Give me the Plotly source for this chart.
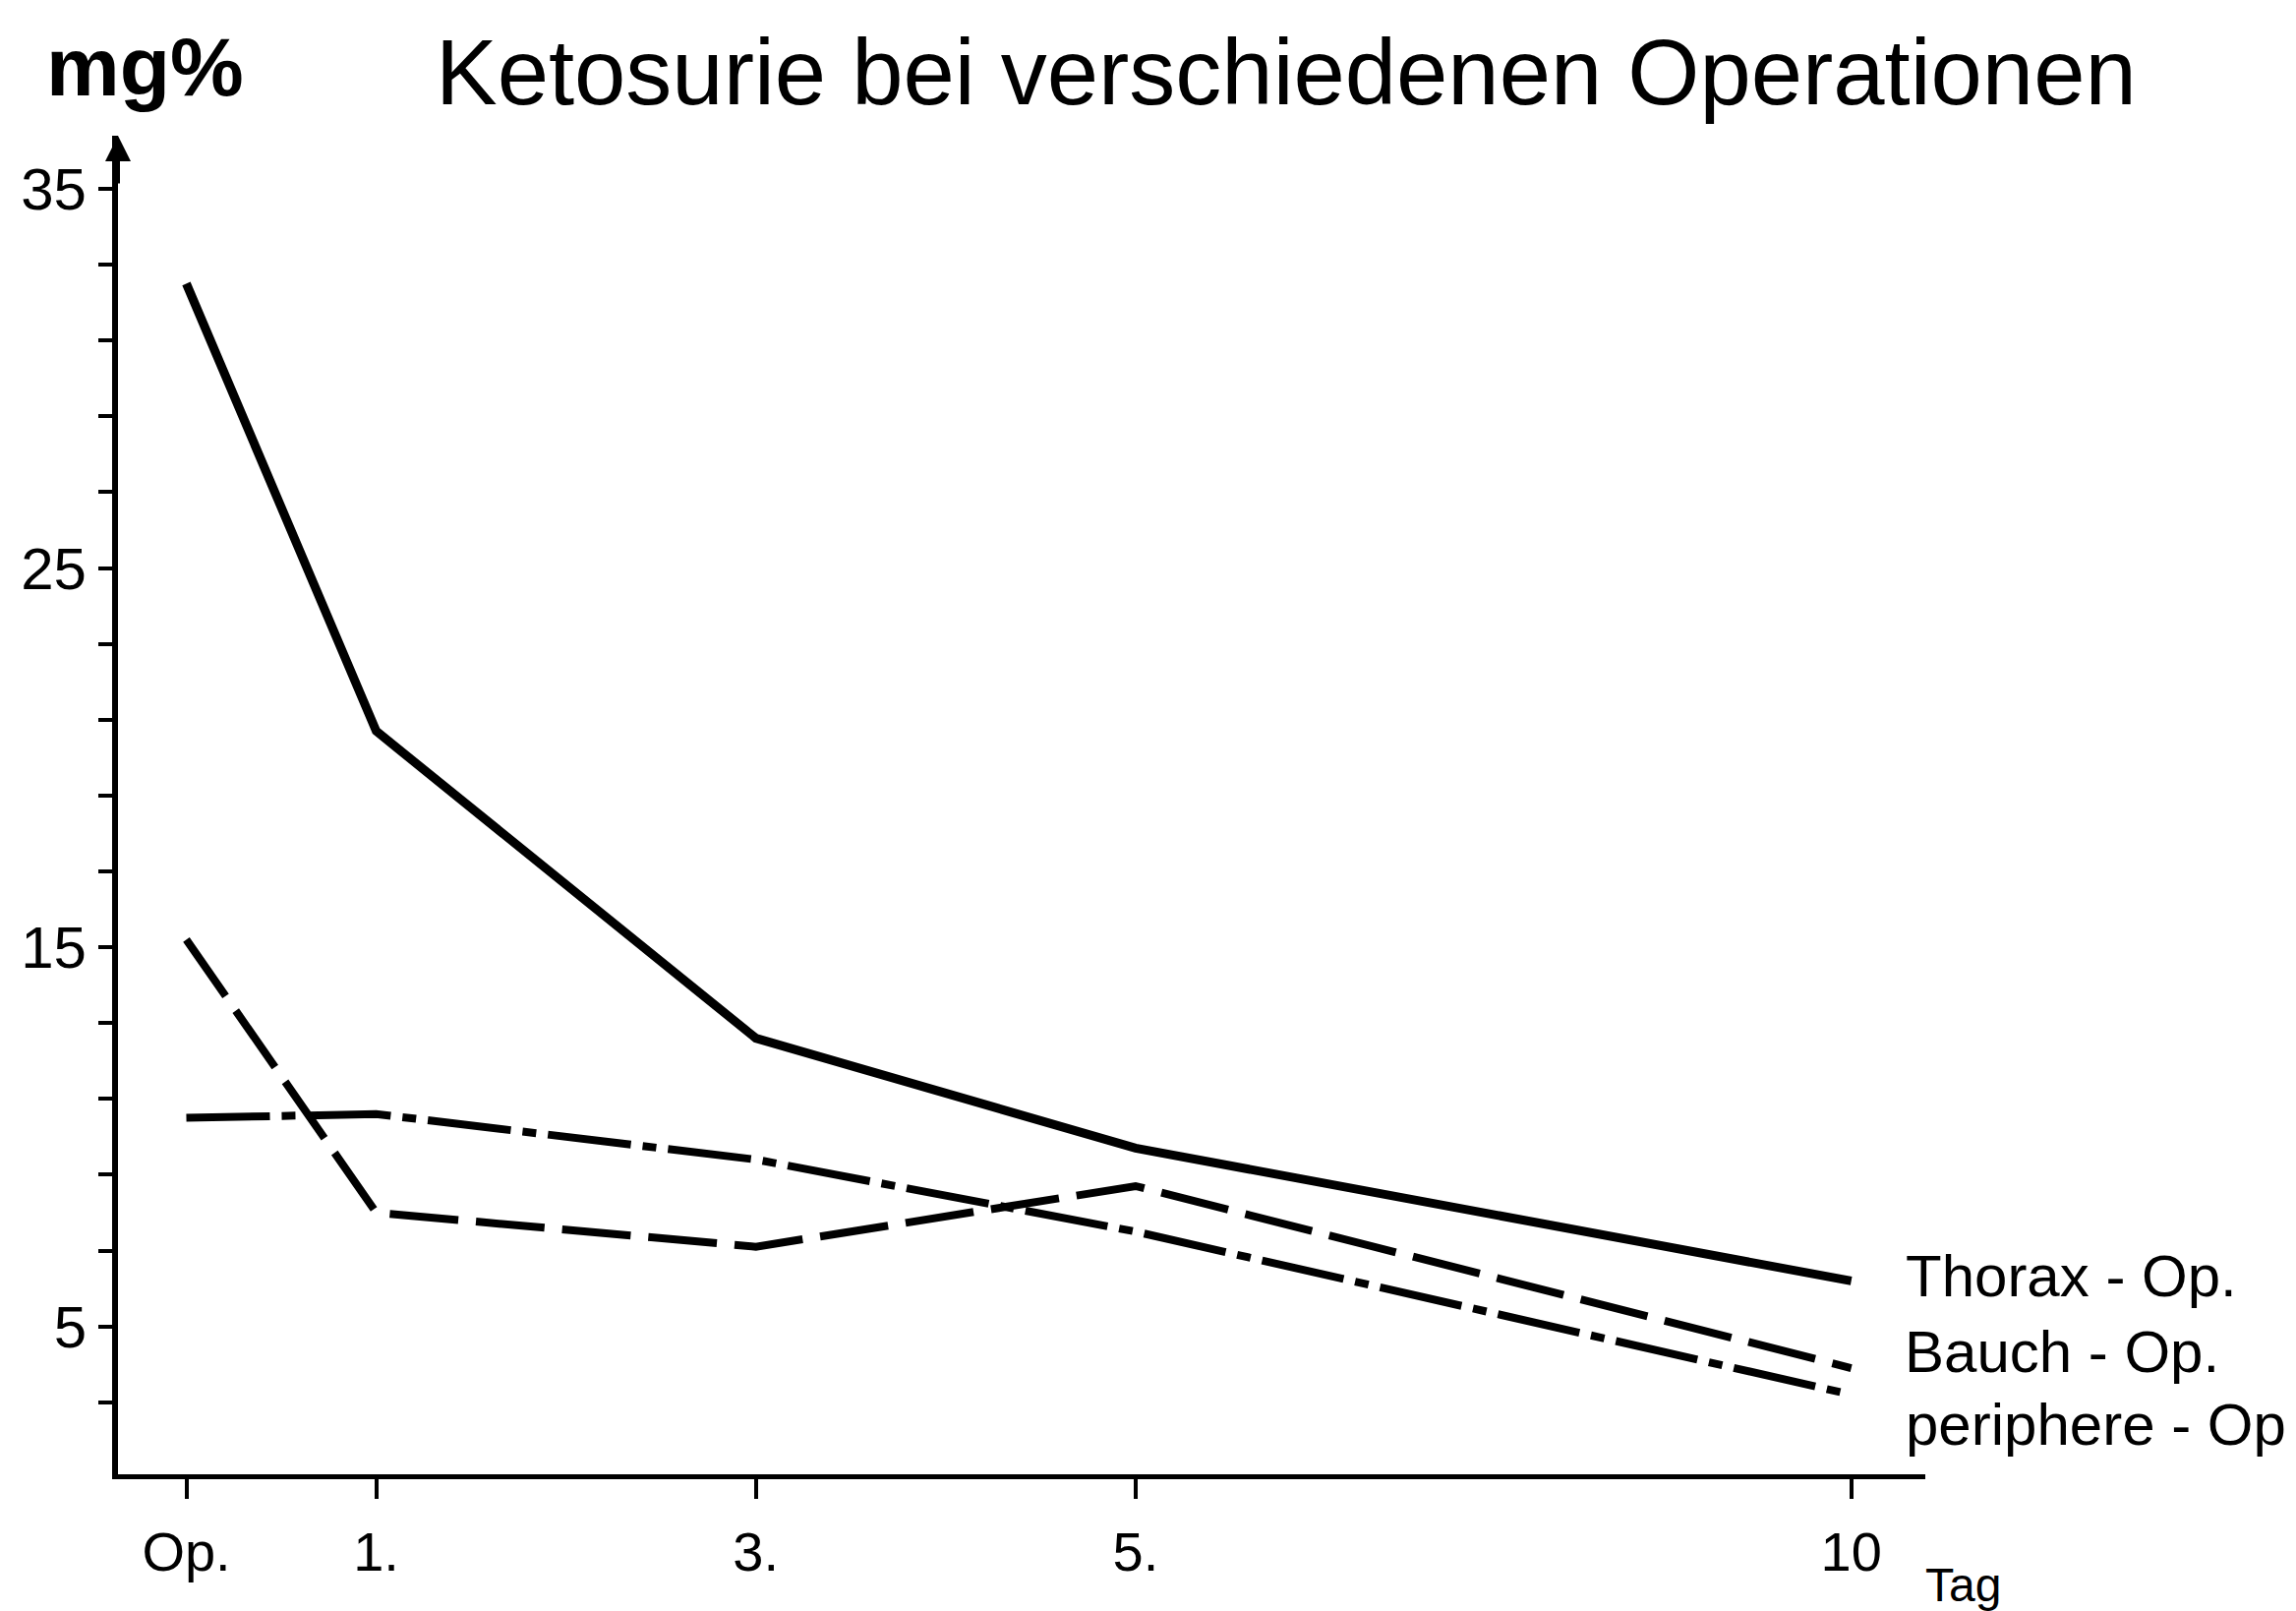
import plotly.graph_objects as go

# ---- data ----
day_labels = ["Op.", "1.", "3.", "5.", "10"]
day_axis_pos = [0, 1, 3, 5, 8.77]          # where each day sits on the drawn (compressed) axis
thorax = [32.5, 20.7, 12.6, 9.7, 6.2]
bauch = [15.2, 8.0, 7.1, 8.7, 3.9]
periphere = [10.5, 10.6, 9.4, 7.5, 3.2]
series_names = ["Thorax - Op.", "Bauch - Op.", "periphere - Op"]
y_tick_vals = list(range(3, 36, 2))
y_labeled = {5: "5", 15: "15", 25: "25", 35: "35"}
y_tick_text = [y_labeled.get(v, "") for v in y_tick_vals]

W, H = 2335, 1638
L, R, T, B = 112, 385, 130, 147
FONT = "Liberation Sans, Arial, sans-serif"


def paper(X, Y):
    return (X - L) / (W - L - R), (H - B - Y) / (H - T - B)


fig = go.Figure()
styles = [dict(width=9, dash="solid"),
          dict(width=8, dash="70px,18px"),
          dict(width=8, dash="85px,12px,14px,12px")]
for name, vals, st in zip(series_names, [thorax, bauch, periphere], styles):
    fig.add_trace(go.Scatter(x=day_axis_pos, y=vals, mode="lines", name=name,
                             line=dict(color="black", width=st["width"], dash=st["dash"]),
                             showlegend=False))

annotations = []
# title
tx, ty = paper(1300, 66)
annotations.append(dict(text="Ketosurie bei verschiedenen Operationen", x=tx, y=ty,
                        xref="paper", yref="paper", showarrow=False,
                        xanchor="center", yanchor="middle",
                        font=dict(family=FONT, size=94, color="black")))
# unit
ux, uy = paper(139, 60)
annotations.append(dict(text="<b>mg%</b>", x=ux, y=uy, xref="paper", yref="paper",
                        showarrow=False, xanchor="center", yanchor="middle",
                        font=dict(family=FONT, size=84, color="black")))
# series labels at right
for name, (X, Y) in zip(series_names, [(1928, 1289), (1927, 1366), (1928, 1440)]):
    px_, py_ = paper(X, Y)
    annotations.append(dict(text=name, x=px_, y=py_, xref="paper", yref="paper",
                            showarrow=False, xanchor="left", yanchor="middle",
                            font=dict(family=FONT, size=60, color="black")))
# x unit "Tag"
gx, gy = paper(1948, 1603)
annotations.append(dict(text="Tag", x=gx, y=gy, xref="paper", yref="paper",
                        showarrow=False, xanchor="left", yanchor="middle",
                        font=dict(family=FONT, size=48, color="black")))
# arrow on top of y axis
annotations.append(dict(text="", x=0, y=1, xref="paper", yref="paper",
                        showarrow=True, ax=0, ay=50, arrowhead=2, arrowsize=1.3,
                        arrowwidth=4, arrowcolor="black"))

fig.update_layout(
    width=W, height=H, autosize=False,
    margin=dict(l=L, r=R, t=T, b=B, pad=0),
    paper_bgcolor="white", plot_bgcolor="white",
    annotations=annotations,
    xaxis=dict(range=[-0.36, 9.16], tickvals=day_axis_pos, ticktext=day_labels,
               showgrid=False, zeroline=False, showline=True, linecolor="black",
               linewidth=5, ticks="outside", ticklen=20, tickwidth=4, tickcolor="black",
               ticklabelstandoff=6,
               tickfont=dict(family=FONT, size=56, color="black")),
    yaxis=dict(range=[1.1, 36.4], tickvals=y_tick_vals, ticktext=y_tick_text,
               showgrid=False, zeroline=False, showline=True, linecolor="black",
               linewidth=6, ticks="outside", ticklen=14, tickwidth=4, tickcolor="black",
               tickfont=dict(family=FONT, size=60, color="black")),
)

fig.write_html("out.html")
